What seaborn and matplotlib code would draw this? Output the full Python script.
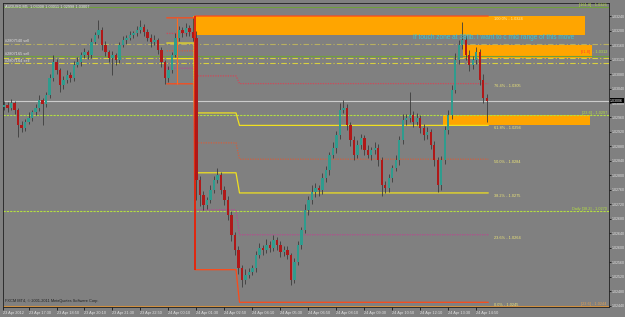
import numpy as np
import seaborn as sns
import matplotlib.pyplot as plt
from matplotlib.patches import Rectangle

# ---------------- data ----------------
first_open = 1.02990
close = [1.02995, 1.02986, 1.03000, 1.02981, 1.02940, 1.02931, 1.02948, 1.02959, 1.02975, 1.02986,
         1.03009, 1.02998, 1.03022, 1.03069, 1.03113, 1.03091, 1.03050, 1.03064, 1.03078, 1.03069,
         1.03105, 1.03113, 1.03133, 1.03141, 1.03133, 1.03169, 1.03188, 1.03202, 1.03160, 1.03141,
         1.03124, 1.03133, 1.03119, 1.03160, 1.03174, 1.03180, 1.03188, 1.03193, 1.03202, 1.03210,
         1.03196, 1.03180, 1.03169, 1.03174, 1.03147, 1.03113, 1.03069, 1.03091, 1.03133, 1.03180,
         1.03202, 1.03193, 1.03207, 1.03196, 1.03180, 1.02788, 1.02746, 1.02719, 1.02733, 1.02760,
         1.02788, 1.02802, 1.02760, 1.02733, 1.02691, 1.02636, 1.02595, 1.02545, 1.02512, 1.02526,
         1.02534, 1.02545, 1.02581, 1.02600, 1.02595, 1.02608, 1.02600, 1.02622, 1.02608, 1.02589,
         1.02595, 1.02581, 1.02512, 1.02561, 1.02608, 1.02650, 1.02705, 1.02733, 1.02755, 1.02766,
         1.02760, 1.02793, 1.02815, 1.02857, 1.02876, 1.02912, 1.02981, 1.02986, 1.02940, 1.02898,
         1.02857, 1.02884, 1.02904, 1.02871, 1.02857, 1.02871, 1.02876, 1.02843, 1.02774, 1.02766,
         1.02793, 1.02821, 1.02843, 1.02898, 1.02953, 1.02959, 1.02967, 1.02948, 1.02959, 1.02931,
         1.02912, 1.02920, 1.02884, 1.02843, 1.02774, 1.02843, 1.02926, 1.02967, 1.03036, 1.03119,
         1.03160, 1.03174, 1.03133, 1.03105, 1.03119, 1.03141, 1.03064, 1.03014, 1.03006]
# wick lengths in pips
upper_wick = [1.0, 0.8, 1.2, 0.6, 0.5, 1.0, 0.8, 1.5, 0.7, 1.0,
              1.2, 0.6, 0.8, 1.0, 2.0, 0.9, 0.5, 1.0, 1.3, 0.8,
              1.0, 1.5, 0.8, 1.2, 0.6, 1.0, 0.8, 2.8, 0.7, 1.1,
              0.6, 1.0, 0.5, 0.9, 1.2, 0.8, 1.0, 0.6, 1.1, 2.0,
              0.7, 0.9, 1.0, 1.4, 0.6, 0.8, 0.5, 1.0, 0.9, 1.2,
              1.0, 0.8, 1.3, 0.7, 3.9, 2.0, 1.0, 1.2, 0.8, 1.5,
              1.0, 2.0, 0.8, 1.0, 0.9, 1.2, 0.7, 1.0, 0.8, 1.5,
              1.2, 0.9, 1.0, 1.4, 0.8, 1.6, 1.0, 1.3, 0.7, 1.1,
              0.9, 1.0, 0.6, 1.2, 1.0, 0.8, 1.5, 1.0, 2.0, 1.2,
              0.8, 1.3, 1.0, 0.9, 1.5, 1.0, 1.8, 2.2, 1.0, 0.8,
              1.2, 1.5, 1.0, 0.9, 1.3, 0.8, 1.6, 1.0, 0.7, 1.2,
              1.0, 0.9, 1.4, 1.0, 1.6, 1.2, 6.3, 1.0, 1.3, 0.9,
              1.0, 1.4, 0.8, 1.0, 0.7, 1.2, 1.0, 1.5, 1.3, 2.0,
              1.5, 5.0, 1.0, 1.2, 1.0, 1.4, 0.8, 1.5, 1.0]
lower_wick = [0.8, 1.0, 0.6, 1.2, 3.3, 1.0, 0.8, 0.7, 1.0, 0.9,
              0.8, 5.8, 1.0, 0.7, 0.8, 1.0, 2.0, 1.2, 0.9, 1.0,
              0.8, 0.7, 1.0, 0.9, 1.2, 0.8, 0.6, 0.9, 1.4, 1.0,
              1.2, 4.7, 1.5, 0.8, 0.6, 1.0, 0.7, 0.9, 0.8, 1.0,
              1.2, 1.0, 1.5, 0.8, 1.2, 1.4, 1.7, 1.0, 0.8, 0.7,
              1.0, 1.2, 0.8, 1.0, 1.0, 5.5, 3.0, 1.4, 1.2, 1.0,
              0.8, 1.0, 1.2, 1.5, 1.3, 1.6, 1.4, 1.8, 2.0, 1.2,
              1.0, 0.9, 1.2, 1.0, 1.4, 1.0, 1.2, 0.8, 1.3, 1.5,
              1.0, 1.2, 1.4, 1.0, 0.9, 1.2, 1.0, 1.5, 1.1, 1.4,
              1.6, 1.0, 1.2, 1.5, 1.0, 1.3, 1.0, 0.9, 1.4, 1.6,
              1.3, 1.0, 1.2, 1.5, 1.0, 1.4, 1.1, 1.6, 3.0, 1.4,
              1.2, 1.0, 0.9, 1.3, 1.0, 1.5, 1.2, 1.4, 1.0, 1.3,
              1.5, 1.2, 1.0, 1.6, 2.0, 1.3, 1.0, 1.2, 1.0, 0.8,
              1.0, 1.2, 1.4, 1.6, 1.2, 1.0, 1.5, 1.3, 5.8]

date_tick_bars = [-0.2, 7, 15, 23, 31, 39, 47, 55, 63, 71, 79, 87, 95, 103, 111, 119, 127, 135]
date_tick_labels = ["23 Apr 2012", "23 Apr 17:30", "23 Apr 18:50", "23 Apr 20:10", "23 Apr 21:30",
                    "23 Apr 22:50", "24 Apr 00:10", "24 Apr 01:30", "24 Apr 02:50", "24 Apr 04:10",
                    "24 Apr 05:30", "24 Apr 06:50", "24 Apr 08:10", "24 Apr 09:30", "24 Apr 10:50",
                    "24 Apr 12:10", "24 Apr 13:30", "24 Apr 14:50"]
price_ticks = [1.02440, 1.02480, 1.02520, 1.02560, 1.02600, 1.02640, 1.02680, 1.02720, 1.02760,
               1.02800, 1.02840, 1.02880, 1.02920, 1.02960, 1.03000, 1.03040, 1.03080, 1.03120,
               1.03160, 1.03200, 1.03240]

# fibonacci retracement, redrawn three times
fib_ratios = [0.0, 0.236, 0.382, 0.5, 0.618, 0.764, 1.0]
fib_names = ["0.0%", "23.6%", "38.2%", "50.0%", "61.8%", "76.4%", "100.0%"]
fib_lows = [1.03053, 1.02540, 1.02450]
fib_highs = [1.03235, 1.03240, 1.03240]
fib_starts = [46.5, 54.6, 67.3]
fib_ends = [54.3, 66.3, 138.4]

# full width horizontal levels
level_prices = [1.03265, 1.03163, 1.03130, 1.03124, 1.03111, 1.02967, 1.02702, 1.02440]
level_labels = ["[161.8] - 1.0326", "", "", "", "", "[23.6] - 1.0297",
                "Daily [38.2] - 1.0270", "[23.6] - 1.0244"]

# orange supply / demand zones
zone_start = [54.0, 125.4, 131.1]
zone_end = [166.0, 167.4, 168.0]
zone_low = [1.03188, 1.02938, 1.03124]
zone_high = [1.03240, 1.02967, 1.03160]

note = "If touch zone at 38fib. I want to c mid range of this move"
trades = ["#2807540 sell", "#2807165 sell", "#2807164 sell"]
trade_prices = [1.03169, 1.03133, 1.03113]

# ---------------- drawing ----------------
bg = "#808080"
sns.set_style("dark", rc={"axes.facecolor": bg, "figure.facecolor": bg})
plt.rcParams["font.family"] = ["Liberation Sans", "DejaVu Sans"]
small = 2.8

fig = plt.figure(figsize=(6.25, 3.17), dpi=100)
ax = fig.add_axes([3 / 625, 10 / 317, 606 / 625, 304 / 317])

# zones
for x0, x1, p0, p1 in zip(zone_start, zone_end, zone_low, zone_high):
    ax.add_patch(Rectangle((x0, p0), x1 - x0, p1 - p0, facecolor="#ffa500",
                           edgecolor="none", zorder=1.5))

# level lines
styles = [("#6fa03c", "-"), ("#b8b060", (0, (5, 2, 1, 2))), ("#6fa03c", "-"),
          ("#d8d040", (0, (5, 2, 1, 2))), ("#d8d040", (0, (5, 2, 1, 2))),
          ("#b4e040", (0, (2, 1))), ("#b4e040", (0, (2, 1))), ("#d09040", "-")]
for p, (col, ls) in zip(level_prices, styles):
    ax.axhline(p, color=col, linestyle=ls, linewidth=0.8, zorder=2)

# fib paths
fib_styles = ["#ff4a18", "#b84890", "#f0e020", "#d06040", "#f0e020", "#d04858", "#ff4a18"]
fib_ls = ["-", (0, (1, 1)), "-", (0, (1, 1)), "-", (0, (1, 1)), "-"]
for r, col, ls in zip(fib_ratios, fib_styles, fib_ls):
    xs, ys = [], []
    for lo, hi, s, e in zip(fib_lows, fib_highs, fib_starts, fib_ends):
        lvl = lo + r * (hi - lo)
        xs += [s, e]
        ys += [lvl, lvl]
    sns.lineplot(x=xs, y=ys, ax=ax, color=col, linestyle=ls, linewidth=0.9,
                 sort=False, estimator=None, zorder=2.6)
ax.vlines([fib_starts[0] + 2.9], fib_lows[0], fib_highs[0], color="#ff6a20", linewidth=0.8, zorder=2.6)
ax.vlines([fib_starts[1]], fib_lows[1], fib_highs[1], color="#e02810", linewidth=1.4, zorder=2.6)

# fib labels (latest fib)
for r, name in zip(fib_ratios, fib_names):
    lvl = fib_lows[2] + r * (fib_highs[2] - fib_lows[2])
    ax.text(fib_ends[2] + 1.6, lvl - 0.00008, f"{name} - {lvl:.4f}", fontsize=small,
            color="#f0e878" if r < 1 else "#fff0b0", va="center", ha="left", zorder=6)

# candles
x = np.arange(len(close))
cl = np.array(close)
op = np.array([first_open] + close[:-1])
hi = np.maximum(op, cl) + np.array(upper_wick) * 1e-4
lo = np.minimum(op, cl) - np.array(lower_wick) * 1e-4
body_col = np.where(cl >= op, "#2f9c8e", "#b01818")
ax.vlines(x, lo, hi, color="#3c3c3c", linewidth=0.6, zorder=3)
ax.bar(x, cl - op, bottom=op, width=0.62, color=body_col, linewidth=0, zorder=4)

# current price line
ax.axhline(close[-1], color="#cccccc", linewidth=0.8, zorder=2)

# right side labels
xr = 172.3
for p, lab in zip(level_prices, level_labels):
    if lab:
        col = "#e0a050" if p < 1.0245 else "#b4e040"
        ax.text(xr, p + 0.00005, lab, fontsize=small, color=col, ha="right", va="center", zorder=6)
ax.text(xr, 1.03142, "- 1.0312", fontsize=small, color="#b4e040", ha="right", va="center", zorder=6)
ax.text(xr - 4.6, 1.03142, "[61.8]", fontsize=small, color="#ff4030", ha="right", va="center", zorder=6)

# note and trade labels
ax.text(116.9, 1.03180, note, fontsize=4.7, color="#3cc8d0", ha="left", va="center", zorder=6)
for lab, p in zip(trades, trade_prices):
    ax.text(0.3, p + 0.00003, lab, fontsize=small, color="#e0e0e0", ha="left", va="center", zorder=6)

ax.text(0.003, 0.994, "AUDUSD,M5  1.03008 1.03011 1.02998 1.03007", transform=ax.transAxes,
        fontsize=small, color="#e8e8e8", ha="left", va="top")
ax.text(0.004, 0.012, "FXCM MT4, \u00a9 2001-2011 MetaQuotes Software Corp.", transform=ax.transAxes,
        fontsize=small, color="#202020", ha="left", va="bottom")

# axes
ax.set_xlim(-0.29, 172.9)
ax.set_ylim(1.02437, 1.03276)
ax.set_xlabel("")
ax.set_ylabel("")
ax.yaxis.tick_right()
ax.set_yticks(price_ticks)
ax.set_yticklabels([f"{p:.5f}" for p in price_ticks])
ax.set_xticks(date_tick_bars)
ax.set_xticklabels(date_tick_labels)
plt.setp(ax.get_xticklabels(), ha="left")
ax.tick_params(axis="x", length=2, width=0.5, color="black", labelsize=small, pad=0.8,
               labelcolor="#e4e4e4", bottom=True)
ax.tick_params(axis="y", length=1.2, width=0.5, color="black", labelsize=2.6, pad=0.6,
               labelcolor="#e4e4e4", right=True, left=False)
for s in ax.spines.values():
    s.set_visible(True)
    s.set_color("#202020")
    s.set_linewidth(0.6)

ax.text(1.002, close[-1], f"{close[-1]:.5f}", transform=ax.get_yaxis_transform(), fontsize=2.6,
        color="white", ha="left", va="center", zorder=10, clip_on=False,
        bbox=dict(boxstyle="square,pad=0.1", facecolor="black", edgecolor="none"))

fig.savefig("out.png", dpi=100, facecolor=bg)
